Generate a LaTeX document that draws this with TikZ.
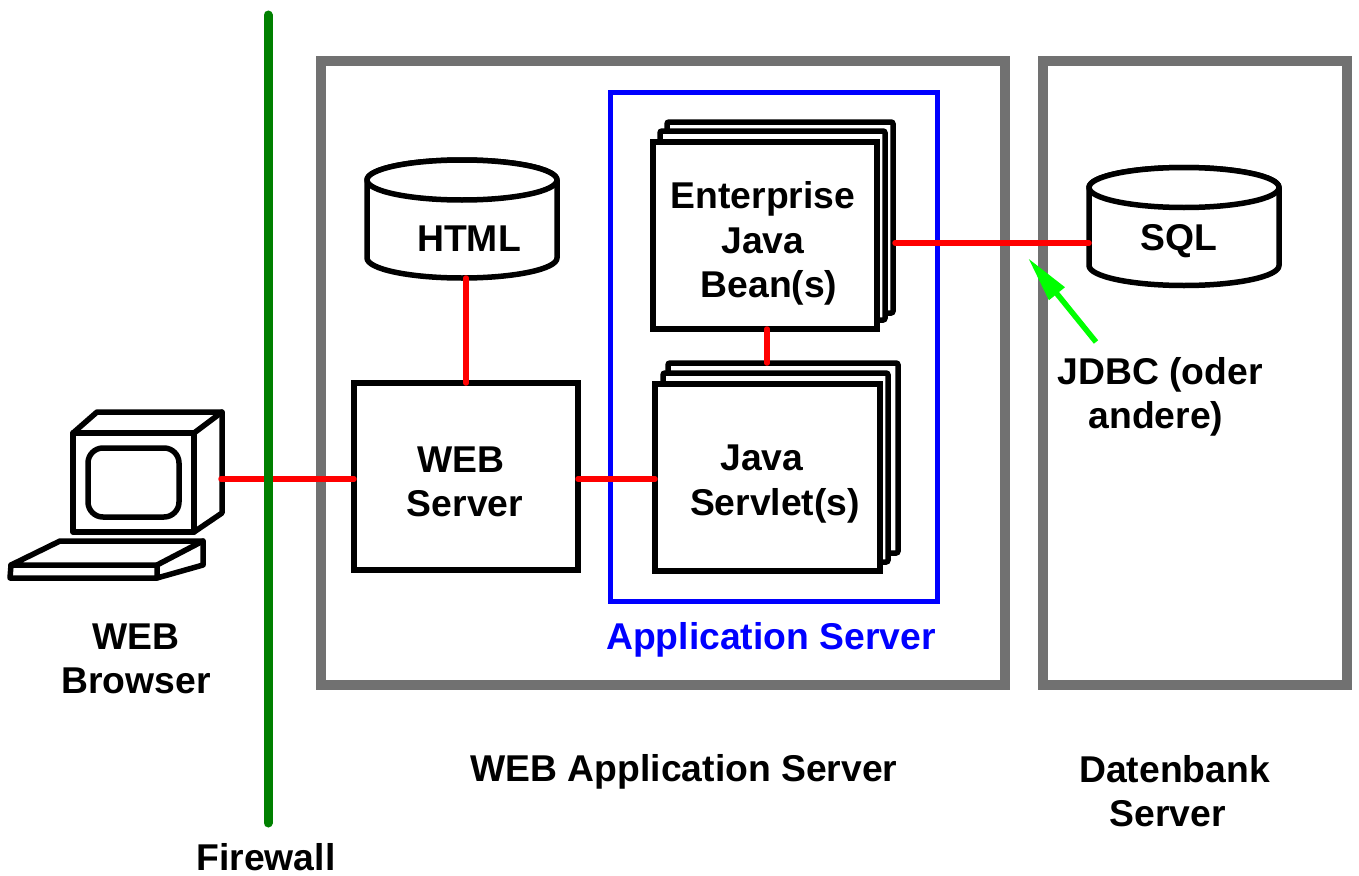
\documentclass[tikz,border=0pt]{standalone}
\usepackage{fontspec}
\setmainfont{Liberation Sans}
\usetikzlibrary{arrows.meta}
\definecolor{wallgrey}{RGB}{113,113,113}
\definecolor{fwgreen}{RGB}{0,128,0}
\definecolor{arrowgreen}{RGB}{0,255,0}
\tikzset{
  frame/.style={draw=wallgrey,line width=10.5pt,inner sep=0pt,outer sep=0pt,miter limit=10},
  appframe/.style={draw=blue,line width=5pt,inner sep=0pt,outer sep=0pt},
  box/.style={draw=black,fill=white,line width=5.5pt,inner sep=0pt,outer sep=0pt},
  layer/.style={box,rounded corners=2pt},
  dbarea/.style={inner sep=0pt,outer sep=0pt,minimum width=190pt,minimum height=118pt},
  dbline/.style={draw=black,fill=white,line width=5.5pt,line cap=round,line join=round},
  link/.style={draw=red,line width=5.5pt,line cap=round},
  pc/.style={draw=black,line width=5.5pt,line join=round,line cap=round},
  labline/.style={font=\bfseries\fontsize{37.3}{44.5}\selectfont,inner sep=0pt,text=black},
  lab/.style={labline,align=center},
}
\newcommand{\dbdrum}[1]{%
  \draw[dbline] ([yshift=-20pt]#1.north west) -- ([yshift=20pt]#1.south west)
     arc[start angle=180,end angle=360,x radius=95pt,y radius=20pt]
     -- ([yshift=-20pt]#1.north east)
     arc[start angle=0,end angle=180,x radius=95pt,y radius=20pt] -- cycle;
  \draw[dbline] ([yshift=-20pt]#1.north west)
     arc[start angle=180,end angle=540,x radius=95pt,y radius=20pt];
}
\begin{document}
\begin{tikzpicture}[x=1pt,y=-1pt]
\useasboundingbox (0,0) rectangle (1359,875);
% frames
\node[frame,minimum width=684pt,minimum height=624pt] (was) at (663,373) {};
\node[frame,minimum width=304pt,minimum height=624pt] (dbs) at (1195,373) {};
\node[appframe,minimum width=327pt,minimum height=509pt] (app) at (773.5,346.5) {};
% computer
\draw[pc] (73,433) rectangle (194,532);
\draw[pc] (73,433) -- (97,412) -- (222,412) -- (194,433);
\draw[pc] (222,412) -- (222,513) -- (194,532);
\draw[pc,rounded corners=15pt] (88,448) rectangle (179,517);
\draw[pc] (11,565) -- (60,541) -- (203,541) -- (157,565) -- cycle;
\draw[pc] (11,565) -- (10,578) -- (157,578) -- (157,565);
\draw[pc] (203,541) -- (203,565) -- (157,578);
\coordinate (pcport) at (221,479);
% databases
\node[dbarea] (html) at (462,219) {};
\dbdrum{html}
\node[dbarea] (sql) at (1184,226.5) {};
\dbdrum{sql}
% boxes
\node[box,minimum width=224pt,minimum height=187pt] (web) at (466,476.5) {};
\node[layer,minimum width=226pt,minimum height=191pt] (ejbC) at (780,217.5) {};
\node[layer,minimum width=225pt,minimum height=189pt] (ejbB) at (772.5,225.5) {};
\node[box,minimum width=224pt,minimum height=187pt] (ejb) at (765,235.5) {};
\node[layer,minimum width=230pt,minimum height=190pt] (srvC) at (783,458) {};
\node[layer,minimum width=225pt,minimum height=189pt] (srvB) at (775.5,467.5) {};
\node[box,minimum width=225pt,minimum height=187pt] (srv) at (767.5,477.5) {};
% connectors
\coordinate (jdbcL) at (895,243);
\coordinate (jdbcR) at (1089,243);
\draw[link] (pcport) -- (web.west |- pcport);
\draw[link] (web.east |- pcport) -- (srv.west |- pcport);
\draw[link] (html.south -| web.north) -- (web.north);
\draw[link] ([xshift=2pt]ejb.south) -- ([xshift=2pt]ejb.south |- srvC.north);
\draw[link] (jdbcL) -- (jdbcR);
% firewall
\coordinate (fwT) at (268,15);
\coordinate (fwB) at (268,823);
\draw[draw=fwgreen,line width=9pt,line cap=round] (fwT) -- (fwB);
% jdbc arrow
\coordinate (jdbcTail) at (1096,342);
\coordinate (jdbcTip) at (1028,258);
\draw[draw=arrowgreen,fill=arrowgreen,line width=5.5pt,-{Triangle[length=46pt,width=19pt,fill=arrowgreen]}] (jdbcTail) -- (jdbcTip);
% labels
\node[lab] (lhtml) at (469,239) {HTML};
\node[lab] (lsql) at (1179,241) {SQL};
\node[lab] (lejb) at (763,243.5) {Enterprise\\Java\\\hspace*{12pt}Bean(s)};
\node[lab] (lsrv) at (775,484) {Java\hspace*{26pt}\\Servlet(s)};
\node[lab] (lweb) at (465,482) {WEB\hspace*{8pt}\\Server};
\node[lab] (lbrowser) at (136,659) {WEB\\Browser};
\node[labline,anchor=base] (lfw) at (266,870) {Firewall};
\node[lab] (lwas) at (684,771.5) {WEB Application Server};
\node[lab,text=blue] (lapp) at (771,640) {Application Server};
\node[lab] (ldb) at (1167.5,791) {\hspace*{14pt}Datenbank\\Server};
\node[lab] (ljdbc) at (1160,397) {JDBC (oder\\\hspace*{-8pt}andere)};
\end{tikzpicture}
\end{document}
